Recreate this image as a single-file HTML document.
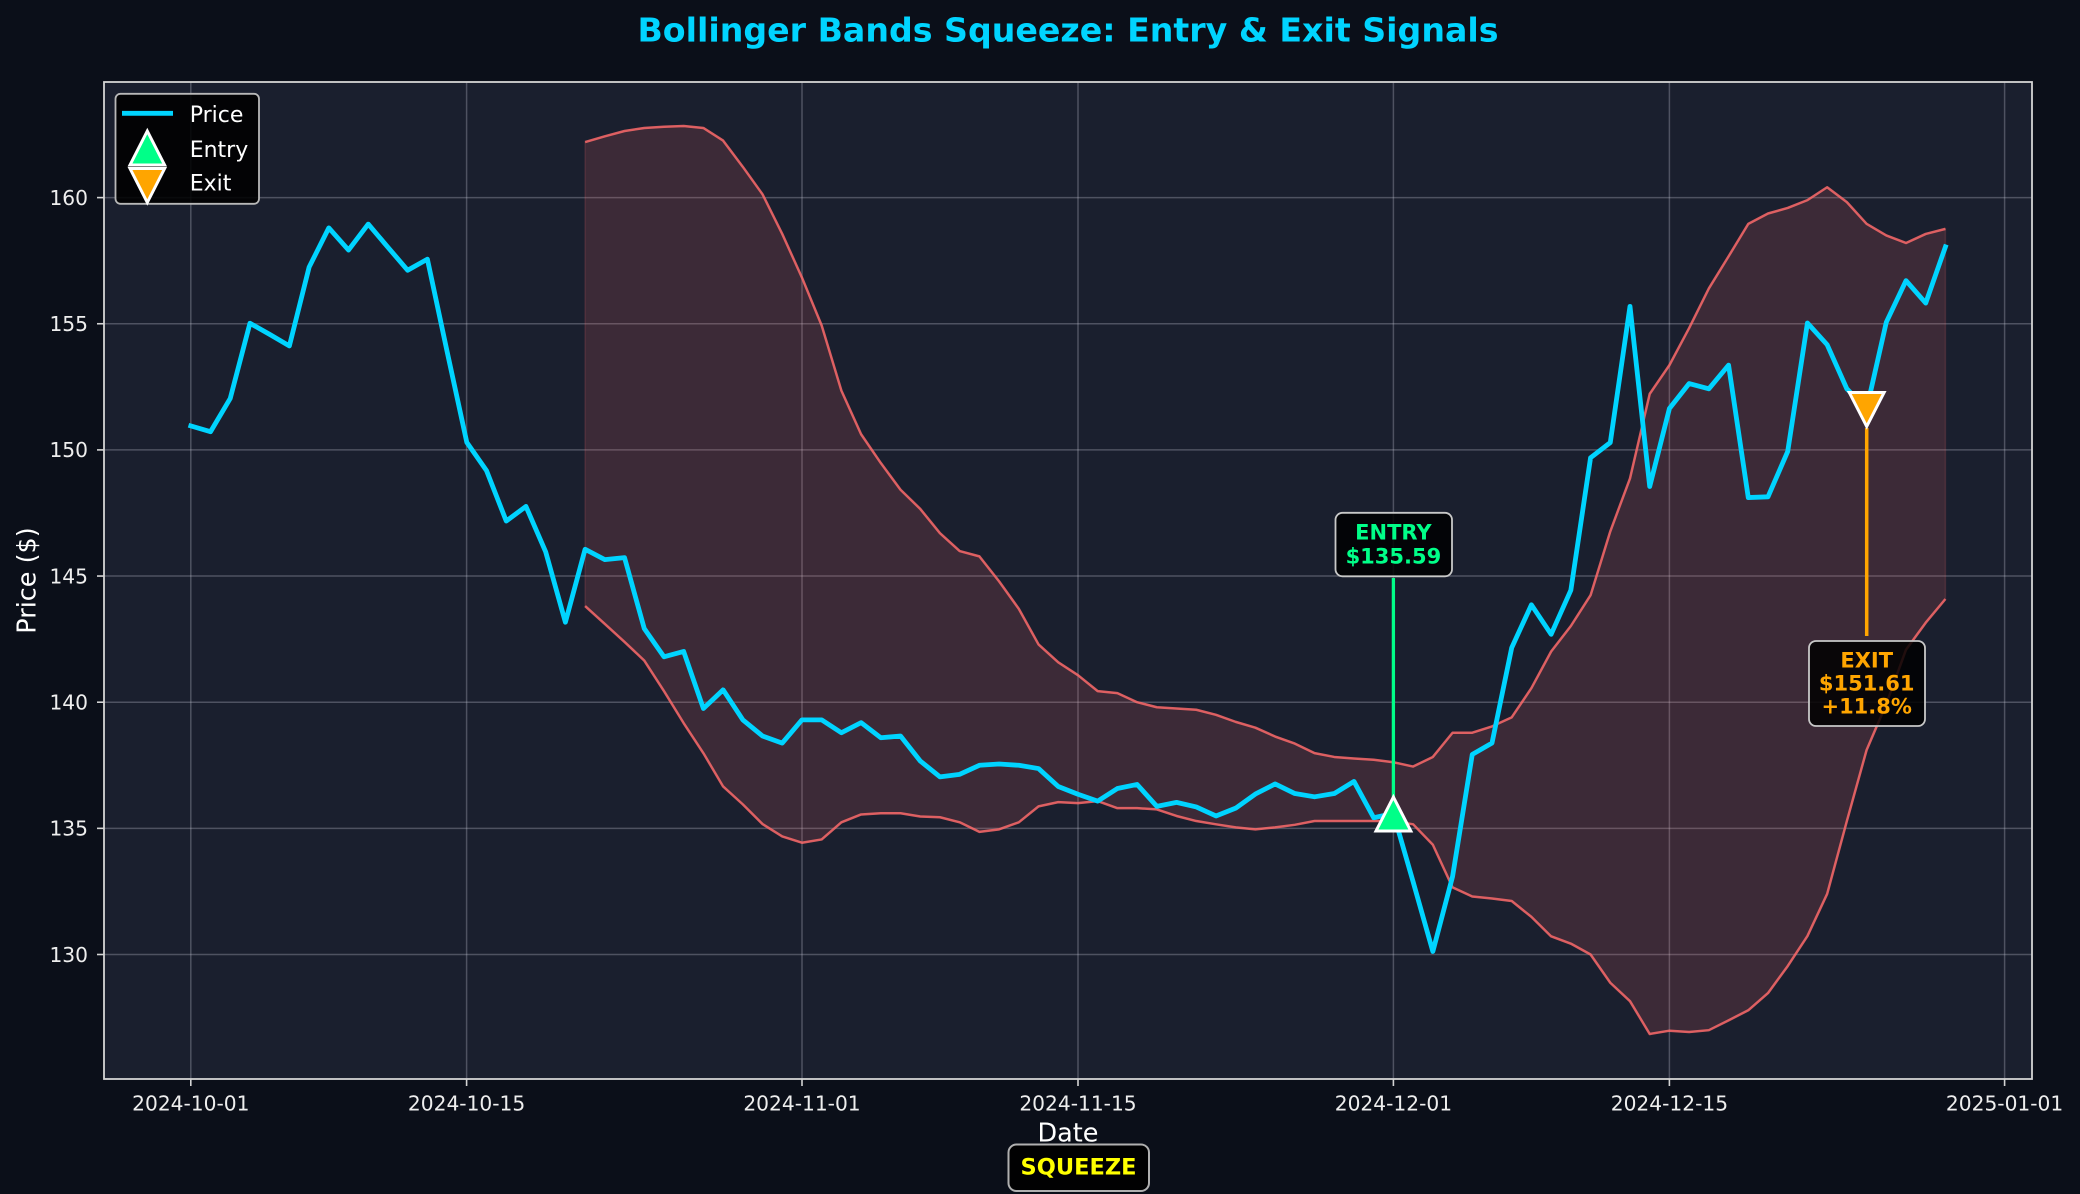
<!DOCTYPE html>
<html>
<head>
<meta charset="utf-8">
<style>
html,body{margin:0;padding:0;background:#0b0f19;}
svg{display:block;}
text{font-family:"DejaVu Sans","Liberation Sans",sans-serif;}
</style>
</head>
<body>
<svg width="2080" height="1194" viewBox="0 0 2080 1194" xmlns="http://www.w3.org/2000/svg">
<rect x="0" y="0" width="2080" height="1194" fill="#0b0f19"/>
<text x="1068" y="41.5" text-anchor="middle" font-size="33.2" font-weight="bold" fill="#00d4ff" textLength="861" lengthAdjust="spacingAndGlyphs">Bollinger Bands Squeeze: Entry &amp; Exit Signals</text>

<rect x="104" y="82" width="1928" height="997" fill="#1a1f2e"/>

<g stroke="#c8cad8" stroke-opacity="0.3" stroke-width="1.5">
<line x1="104" y1="197.6" x2="2032" y2="197.6"/>
<line x1="104" y1="323.75" x2="2032" y2="323.75"/>
<line x1="104" y1="449.9" x2="2032" y2="449.9"/>
<line x1="104" y1="576.05" x2="2032" y2="576.05"/>
<line x1="104" y1="702.2" x2="2032" y2="702.2"/>
<line x1="104" y1="828.35" x2="2032" y2="828.35"/>
<line x1="104" y1="954.5" x2="2032" y2="954.5"/>
<line x1="190.8" y1="82" x2="190.8" y2="1079"/>
<line x1="466.6" y1="82" x2="466.6" y2="1079"/>
<line x1="802" y1="82" x2="802" y2="1079"/>
<line x1="1078" y1="82" x2="1078" y2="1079"/>
<line x1="1393.4" y1="82" x2="1393.4" y2="1079"/>
<line x1="1669.4" y1="82" x2="1669.4" y2="1079"/>
<line x1="2004.6" y1="82" x2="2004.6" y2="1079"/>
</g>

<g transform="translate(190.8,4234.4) scale(19.715,-25.23)">
<polygon fill="#ff6b6b" fill-opacity="0.15" stroke="#ff6b6b" stroke-opacity="0.15" stroke-width="1.5" vector-effect="non-scaling-stroke"
points="20,162.20 21,162.43 22,162.64 23,162.76 24,162.81 25,162.84 26,162.76 27,162.26 28,161.22 29,160.13 30,158.56 31,156.83 32,154.93 33,152.35 34,150.62 35,149.48 36,148.42 37,147.66 38,146.70 39,145.99 40,145.78 41,144.79 42,143.70 43,142.29 44,141.58 45,141.07 46,140.44 47,140.36 48,140.00 49,139.80 50,139.75 51,139.70 52,139.50 53,139.22 54,138.99 55,138.64 56,138.36 57,137.98 58,137.83 59,137.77 60,137.72 61,137.62 62,137.45 63,137.83 64,138.79 65,138.79 66,139.04 67,139.40 68,140.56 69,142.01 70,143.02 71,144.24 72,146.77 73,148.87 74,152.22 75,153.36 76,154.83 77,156.40 78,157.67 79,158.96 80,159.37 81,159.59 82,159.90 83,160.41 84,159.82 85,158.96 86,158.50 87,158.20 88,158.56 89,158.76 89,144.09 88,143.15 87,142.08 86,139.93 85,138.10 84,135.29 83,132.40 82,130.73 81,129.54 80,128.47 79,127.79 78,127.39 77,127.00 76,126.93 75,126.98 74,126.85 73,128.15 72,128.88 71,130.00 70,130.43 69,130.72 68,131.49 67,132.12 66,132.22 65,132.30 64,132.66 63,134.35 62,135.16 61,135.29 60,135.29 59,135.29 58,135.29 57,135.29 56,135.14 55,135.04 54,134.96 53,135.04 52,135.16 51,135.29 50,135.49 49,135.75 48,135.80 47,135.80 46,136.08 45,136.00 44,136.04 43,135.87 42,135.24 41,134.96 40,134.86 39,135.24 38,135.44 37,135.47 36,135.60 35,135.60 34,135.55 33,135.24 32,134.56 31,134.43 30,134.68 29,135.17 28,135.95 27,136.66 26,137.98 25,139.17 24,140.44 23,141.65 22,142.39 21,143.10 20,143.81"/>
<polyline fill="none" stroke="#ff6b6b" stroke-opacity="0.82" stroke-width="2.5" stroke-linejoin="round" vector-effect="non-scaling-stroke"
points="20,162.20 21,162.43 22,162.64 23,162.76 24,162.81 25,162.84 26,162.76 27,162.26 28,161.22 29,160.13 30,158.56 31,156.83 32,154.93 33,152.35 34,150.62 35,149.48 36,148.42 37,147.66 38,146.70 39,145.99 40,145.78 41,144.79 42,143.70 43,142.29 44,141.58 45,141.07 46,140.44 47,140.36 48,140.00 49,139.80 50,139.75 51,139.70 52,139.50 53,139.22 54,138.99 55,138.64 56,138.36 57,137.98 58,137.83 59,137.77 60,137.72 61,137.62 62,137.45 63,137.83 64,138.79 65,138.79 66,139.04 67,139.40 68,140.56 69,142.01 70,143.02 71,144.24 72,146.77 73,148.87 74,152.22 75,153.36 76,154.83 77,156.40 78,157.67 79,158.96 80,159.37 81,159.59 82,159.90 83,160.41 84,159.82 85,158.96 86,158.50 87,158.20 88,158.56 89,158.76"/>
<polyline fill="none" stroke="#ff6b6b" stroke-opacity="0.82" stroke-width="2.5" stroke-linejoin="round" vector-effect="non-scaling-stroke"
points="20,143.81 21,143.10 22,142.39 23,141.65 24,140.44 25,139.17 26,137.98 27,136.66 28,135.95 29,135.17 30,134.68 31,134.43 32,134.56 33,135.24 34,135.55 35,135.60 36,135.60 37,135.47 38,135.44 39,135.24 40,134.86 41,134.96 42,135.24 43,135.87 44,136.04 45,136.00 46,136.08 47,135.80 48,135.80 49,135.75 50,135.49 51,135.29 52,135.16 53,135.04 54,134.96 55,135.04 56,135.14 57,135.29 58,135.29 59,135.29 60,135.29 61,135.29 62,135.16 63,134.35 64,132.66 65,132.30 66,132.22 67,132.12 68,131.49 69,130.72 70,130.43 71,130.00 72,128.88 73,128.15 74,126.85 75,126.98 76,126.93 77,127.00 78,127.39 79,127.79 80,128.47 81,129.54 82,130.73 83,132.40 84,135.29 85,138.10 86,139.93 87,142.08 88,143.15 89,144.09"/>
<polyline fill="none" stroke="#00d4ff" stroke-width="4.8" stroke-linejoin="round" stroke-linecap="square" vector-effect="non-scaling-stroke"
points="0,150.95 1,150.72 2,152.04 3,155.02 4,154.58 5,154.12 6,157.24 7,158.80 8,157.92 9,158.95 10,158.03 11,157.12 12,157.56 13,153.9 14,150.30 15,149.18 16,147.18 17,147.76 18,145.96 19,143.17 20,146.06 21,145.65 22,145.73 23,142.92 24,141.80 25,142.01 26,139.75 27,140.49 28,139.30 29,138.66 30,138.38 31,139.30 32,139.30 33,138.79 34,139.19 35,138.59 36,138.66 37,137.67 38,137.04 39,137.14 40,137.50 41,137.55 42,137.50 43,137.37 44,136.66 45,136.35 46,136.08 47,136.58 48,136.74 49,135.87 50,136.03 51,135.85 52,135.49 53,135.80 54,136.36 55,136.76 56,136.38 57,136.25 58,136.38 59,136.86 60,135.42 61,135.59 62,132.88 63,130.12 64,133.09 65,137.93 66,138.38 67,142.16 68,143.86 69,142.69 70,144.44 71,149.69 72,150.29 73,155.69 74,148.55 75,151.64 76,152.63 77,152.42 78,153.36 79,148.11 80,148.14 81,149.94 82,155.03 83,154.17 84,152.42 85,151.61 86,155.06 87,156.71 88,155.82 89,158.05"/>
</g>

<!-- annotation arrows -->
<line x1="1393.4" y1="578" x2="1393.4" y2="799" stroke="#00ff88" stroke-width="3.3"/>
<line x1="1866.7" y1="428" x2="1866.7" y2="636" stroke="#ffa500" stroke-width="3.5"/>

<!-- markers -->
<polygon points="1393.4,797 1376,831 1410.8,831" fill="#00ff88" stroke="#ffffff" stroke-width="3" stroke-linejoin="miter"/>
<polygon points="1849.3,392.5 1884.1,392.5 1866.7,426.5" fill="#ffa500" stroke="#ffffff" stroke-width="3" stroke-linejoin="miter"/>

<!-- entry box -->
<rect x="1335.5" y="512.8" width="116.5" height="63.5" rx="7" ry="7" fill="#000000" fill-opacity="0.85" stroke="#c8c8c8" stroke-width="1.8"/>
<text x="1393.4" y="539.3" text-anchor="middle" font-size="21" font-weight="bold" fill="#00ff88">ENTRY</text>
<text x="1393.4" y="563.3" text-anchor="middle" font-size="21" font-weight="bold" fill="#00ff88">$135.59</text>

<!-- exit box -->
<rect x="1809" y="641" width="116" height="85" rx="7" ry="7" fill="#000000" fill-opacity="0.85" stroke="#c8c8c8" stroke-width="1.8"/>
<text x="1866.7" y="667.5" text-anchor="middle" font-size="21" font-weight="bold" fill="#ffa500">EXIT</text>
<text x="1866.7" y="690.5" text-anchor="middle" font-size="21" font-weight="bold" fill="#ffa500">$151.61</text>
<text x="1866.7" y="713.4" text-anchor="middle" font-size="21" font-weight="bold" fill="#ffa500">+11.8%</text>

<!-- legend -->
<rect x="115.5" y="93.8" width="143.5" height="110" rx="5" ry="5" fill="#000000" fill-opacity="0.88" stroke="#b8b8b8" stroke-width="1.8"/>
<line x1="122" y1="113.3" x2="173" y2="113.3" stroke="#00d4ff" stroke-width="4.8"/>
<polygon points="147.3,131 130,165 164.6,165" fill="#00ff88" stroke="#ffffff" stroke-width="3"/>
<polygon points="130,168.5 164.6,168.5 147.3,202.5" fill="#ffa500" stroke="#ffffff" stroke-width="3"/>
<text x="189.7" y="122" font-size="22" fill="#ffffff">Price</text>
<text x="189.7" y="156.8" font-size="22" fill="#ffffff">Entry</text>
<text x="189.7" y="190.5" font-size="22" fill="#ffffff">Exit</text>

<!-- spines -->
<rect x="104" y="82" width="1928" height="997" fill="none" stroke="#d4d4d4" stroke-width="1.8"/>

<!-- ticks -->
<g stroke="#d4d4d4" stroke-width="1.6">
<line x1="190.8" y1="1079" x2="190.8" y2="1086"/>
<line x1="466.6" y1="1079" x2="466.6" y2="1086"/>
<line x1="802" y1="1079" x2="802" y2="1086"/>
<line x1="1078" y1="1079" x2="1078" y2="1086"/>
<line x1="1393.4" y1="1079" x2="1393.4" y2="1086"/>
<line x1="1669.4" y1="1079" x2="1669.4" y2="1086"/>
<line x1="2004.6" y1="1079" x2="2004.6" y2="1086"/>
<line x1="97" y1="197.6" x2="104" y2="197.6"/>
<line x1="97" y1="323.75" x2="104" y2="323.75"/>
<line x1="97" y1="449.9" x2="104" y2="449.9"/>
<line x1="97" y1="576.05" x2="104" y2="576.05"/>
<line x1="97" y1="702.2" x2="104" y2="702.2"/>
<line x1="97" y1="828.35" x2="104" y2="828.35"/>
<line x1="97" y1="954.5" x2="104" y2="954.5"/>
</g>

<g font-size="20.2" fill="#eeeeee" text-anchor="middle">
<text x="190.8" y="1110.5">2024-10-01</text>
<text x="466.6" y="1110.5">2024-10-15</text>
<text x="802" y="1110.5">2024-11-01</text>
<text x="1078" y="1110.5">2024-11-15</text>
<text x="1393.4" y="1110.5">2024-12-01</text>
<text x="1669.4" y="1110.5">2024-12-15</text>
<text x="2004.6" y="1110.5">2025-01-01</text>
</g>
<g font-size="20.2" fill="#eeeeee" text-anchor="end">
<text x="88" y="204.9">160</text>
<text x="88" y="331.1">155</text>
<text x="88" y="457.2">150</text>
<text x="88" y="583.4">145</text>
<text x="88" y="709.5">140</text>
<text x="88" y="835.7">135</text>
<text x="88" y="961.8">130</text>
</g>

<text x="1068" y="1141.7" text-anchor="middle" font-size="25.5" fill="#ffffff">Date</text>
<text transform="translate(35.5,580.5) rotate(-90)" text-anchor="middle" font-size="25.5" fill="#ffffff">Price ($)</text>

<!-- squeeze box -->
<rect x="1008.5" y="1144.5" width="140.5" height="46.5" rx="8" ry="8" fill="#000000" fill-opacity="0.9" stroke="#b0b0b0" stroke-width="2"/>
<text x="1078.5" y="1174.3" text-anchor="middle" font-size="22.5" font-weight="bold" fill="#ffff00">SQUEEZE</text>
</svg>
</body>
</html>
